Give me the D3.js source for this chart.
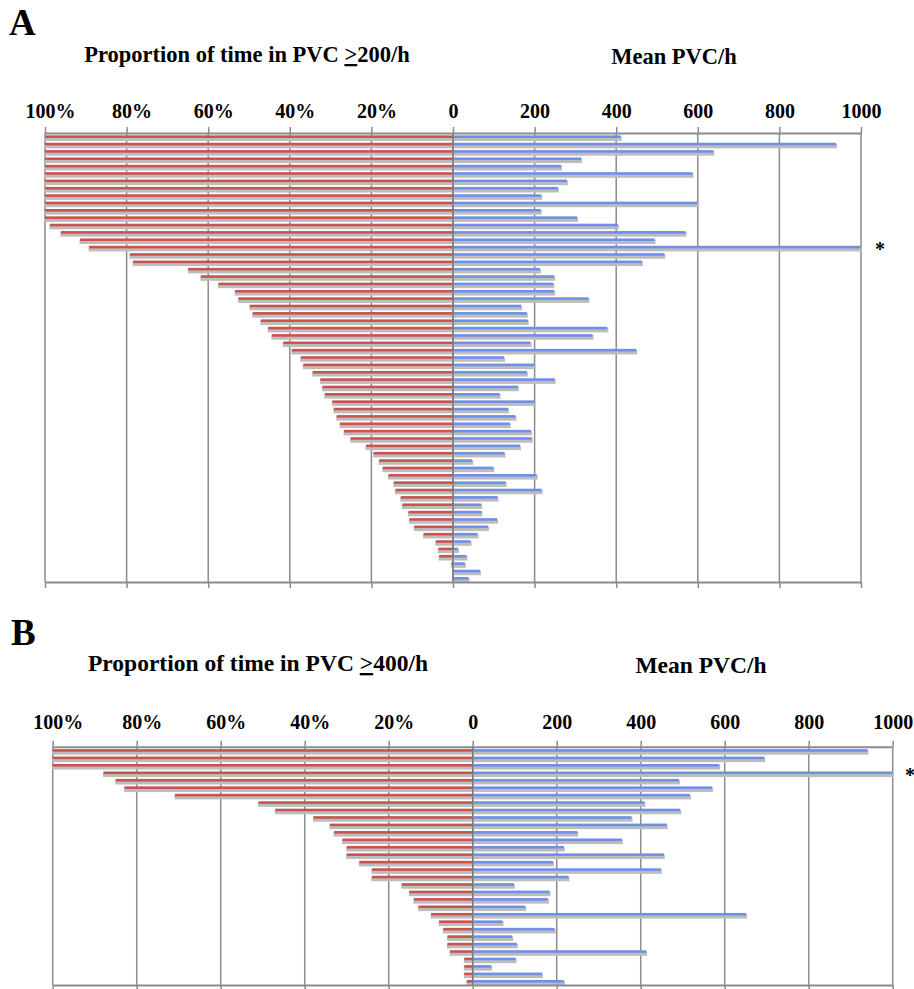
<!DOCTYPE html>
<html>
<head>
<meta charset="utf-8">
<script src="https://cdn.jsdelivr.net/npm/d3@7"></script>
<style>
  body { margin: 0; background: #fff; }
  text { font-family: "Liberation Serif", "Times New Roman", serif; font-weight: bold; fill: #000; }
</style>
</head>
<body>
<script>
// Panel A: proportion of time in PVC >=200/h (%) and mean PVC/h, one row per patient
var propA = [100, 100, 100, 100, 100, 100, 100, 100, 100, 100, 100, 100,
  98.8, 96.1, 91.4, 89.2, 79.2, 78.4, 64.9, 61.8, 57.5, 53.4, 52.6, 49.8, 49.1,
  47.1, 45.3, 44.4, 41.6, 39.5, 37.3, 36.7, 34.4, 32.5, 32.0, 31.4, 29.6, 29.2,
  28.5, 27.7, 26.7, 25.1, 21.3, 19.5, 18.1, 17.2, 15.8, 14.5, 14.1, 12.8, 12.4,
  10.9, 10.7, 9.5, 7.2, 4.2, 3.6, 3.4, 0.4, 0, 0];
var meanA = [411, 939, 638, 314, 265, 587, 279, 257, 216, 599,
  215, 304, 404, 570, 494, 1000, 518, 463, 213, 248,
  246, 248, 332, 167, 181, 183, 378, 342, 190, 449,
  125, 200, 181, 249, 159, 114, 200, 135, 153, 139,
  191, 193, 164, 126, 47, 99, 205, 129, 217, 109,
  69, 70, 108, 86, 60, 43, 12, 33, 29, 66, 38];

// Panel B: proportion of time in PVC >=400/h (%) and mean PVC/h
var propB = [100, 100, 100, 87.9, 85.0, 82.9, 70.9, 51.0, 47.0, 37.9, 34.0, 33.0,
  31.0, 30.0, 30.0, 27.0, 24.0, 24.0, 16.9, 15.1, 14.0, 12.9, 9.9, 8.0, 7.0,
  6.0, 6.0, 5.4, 2.0, 2.0, 2.0, 1.4];
var meanB = [940, 694, 587, 1000, 491, 570, 517, 409, 494, 378, 462, 249,
  355, 217, 455, 191, 448, 228, 98, 183, 179, 125, 651, 71, 195, 94, 105,
  413, 102, 44, 165, 217];

var propTicks = [100, 80, 60, 40, 20, 0];
var meanTicks = [200, 400, 600, 800, 1000];

var svg = d3.select("body").append("svg")
  .attr("width", 914)
  .attr("height", 989);

var defs = svg.append("defs");
defs.append("filter").attr("id", "soft")
  .attr("x", "-5%").attr("y", "-100%").attr("width", "110%").attr("height", "300%")
  .append("feGaussianBlur").attr("stdDeviation", 0.6);

function drawPanel(p) {
  var g = svg.append("g");

  var xLeft = d3.scaleLinear().domain([0, 100]).range([p.zero, p.zero - p.span]);
  var xRight = d3.scaleLinear().domain([0, 1000]).range([p.zero, p.zero + p.span]);
  var y = d3.scaleBand().domain(d3.range(p.prop.length)).range([p.top, p.bottom]);

  // vertical gridlines
  g.append("g").selectAll("line")
    .data(propTicks.map(xLeft).concat(meanTicks.map(xRight)))
    .enter().append("line")
    .attr("x1", d => d).attr("x2", d => d)
    .attr("y1", p.top).attr("y2", p.bottom)
    .attr("stroke", "#8c8c8c")
    .attr("stroke-width", 1.5);

  // bar shadows
  var sh = g.append("g").attr("filter", "url(#soft)");
  sh.selectAll(".sl").data(p.prop).enter().append("rect")
    .attr("x", d => xLeft(d) - 0.5)
    .attr("y", (d, i) => y(i) + y.bandwidth() / 2 - 0.3)
    .attr("width", d => Math.max(0, p.zero - xLeft(d)))
    .attr("height", 4.6)
    .attr("fill", "#bdbdbd");
  sh.selectAll(".sr").data(p.mean).enter().append("rect")
    .attr("x", p.zero)
    .attr("y", (d, i) => y(i) + y.bandwidth() / 2 - 0.3)
    .attr("width", d => xRight(d) - p.zero + 1)
    .attr("height", 4.6)
    .attr("fill", "#bdbdbd");

  // bars
  g.append("g").selectAll("rect").data(p.prop).enter().append("rect")
    .attr("x", d => xLeft(d))
    .attr("y", (d, i) => y(i) + y.bandwidth() / 2 - 1.3)
    .attr("width", d => p.zero - xLeft(d))
    .attr("height", 2.6)
    .attr("fill", "#c8534f");
  g.append("g").selectAll("rect").data(p.mean).enter().append("rect")
    .attr("x", p.zero)
    .attr("y", (d, i) => y(i) + y.bandwidth() / 2 - 1.3)
    .attr("width", d => xRight(d) - p.zero)
    .attr("height", 2.6)
    .attr("fill", "#6f8fe8");

  // top axes with labels
  var topL = g.append("g").attr("transform", `translate(0,${p.top})`)
    .call(d3.axisTop(xLeft).tickValues(propTicks).tickSize(6).tickSizeOuter(0)
      .tickFormat(d => d ? d + "%" : "0"));
  var topR = g.append("g").attr("transform", `translate(0,${p.top})`)
    .call(d3.axisTop(xRight).tickValues(meanTicks).tickSize(6).tickSizeOuter(0)
      .tickFormat(d => String(d)));
  [topL, topR].forEach(function(ax) {
    ax.select(".domain").attr("stroke", "#8c8c8c").attr("stroke-width", 2);
    ax.selectAll(".tick line").attr("stroke", "#8c8c8c").attr("stroke-width", 1.5);
    ax.selectAll("text")
      .attr("y", p.labelY - p.top).attr("dy", 0)
      .style("font-size", "20px")
      .style("font-family", "'Liberation Serif','Times New Roman',serif")
      .style("font-weight", "bold")
      .attr("fill", "#000");
  });
  topL.selectAll("text").attr("dx", d => d ? 5 : 0);

  // bottom axis (ticks only)
  var bot = g.append("g").attr("transform", `translate(0,${p.bottom})`)
    .call(d3.axisBottom(xLeft).tickValues(propTicks).tickSize(6).tickSizeOuter(0).tickFormat(""));
  var bot2 = g.append("g").attr("transform", `translate(0,${p.bottom})`)
    .call(d3.axisBottom(xRight).tickValues(meanTicks).tickSize(6).tickSizeOuter(0).tickFormat(""));
  [bot, bot2].forEach(function(ax) {
    ax.select(".domain").attr("stroke", "#8c8c8c").attr("stroke-width", 2);
    ax.selectAll(".tick line").attr("stroke", "#8c8c8c").attr("stroke-width", 1.5);
  });

  // zero line
  g.append("line")
    .attr("x1", p.zero).attr("x2", p.zero)
    .attr("y1", p.top).attr("y2", p.bottom)
    .attr("stroke", "#7a7a7a").attr("stroke-width", 1.5);

  // titles
  g.append("text").attr("x", p.letterX).attr("y", p.letterY)
    .style("font-size", "37px").text(p.letter);

  var t = g.append("text").attr("x", p.titleX).attr("y", p.titleY)
    .attr("text-anchor", "middle").style("font-size", p.titleSize + "px");
  t.append("tspan").text("Proportion of time in PVC ");
  t.append("tspan").style("text-decoration", "underline").text(">");
  t.append("tspan").text(p.threshold + "/h");

  g.append("text").attr("x", p.meanX).attr("y", p.meanY)
    .attr("text-anchor", "middle").style("font-size", p.titleSize + "px")
    .text("Mean PVC/h");

  // asterisk on the clipped bar
  var iMax = p.mean.indexOf(d3.max(p.mean));
  g.append("text").attr("x", p.starX)
    .attr("y", y(iMax) + y.bandwidth() / 2 + 9)
    .style("font-size", "20px").text("*");
}

drawPanel({
  prop: propA, mean: meanA, zero: 453, span: 408, top: 133, bottom: 582,
  labelY: 118, letter: "A", letterX: 9, letterY: 35,
  titleX: 247, titleY: 62, meanX: 674, meanY: 64, titleSize: 22.5,
  threshold: "200", starX: 875
});

drawPanel({
  prop: propB, mean: meanB, zero: 472.7, span: 420, top: 746.7, bottom: 985,
  labelY: 729, letter: "B", letterX: 11, letterY: 645,
  titleX: 258, titleY: 671, meanX: 701, meanY: 673, titleSize: 23.5,
  threshold: "400", starX: 905
});
</script>
</body>
</html>
